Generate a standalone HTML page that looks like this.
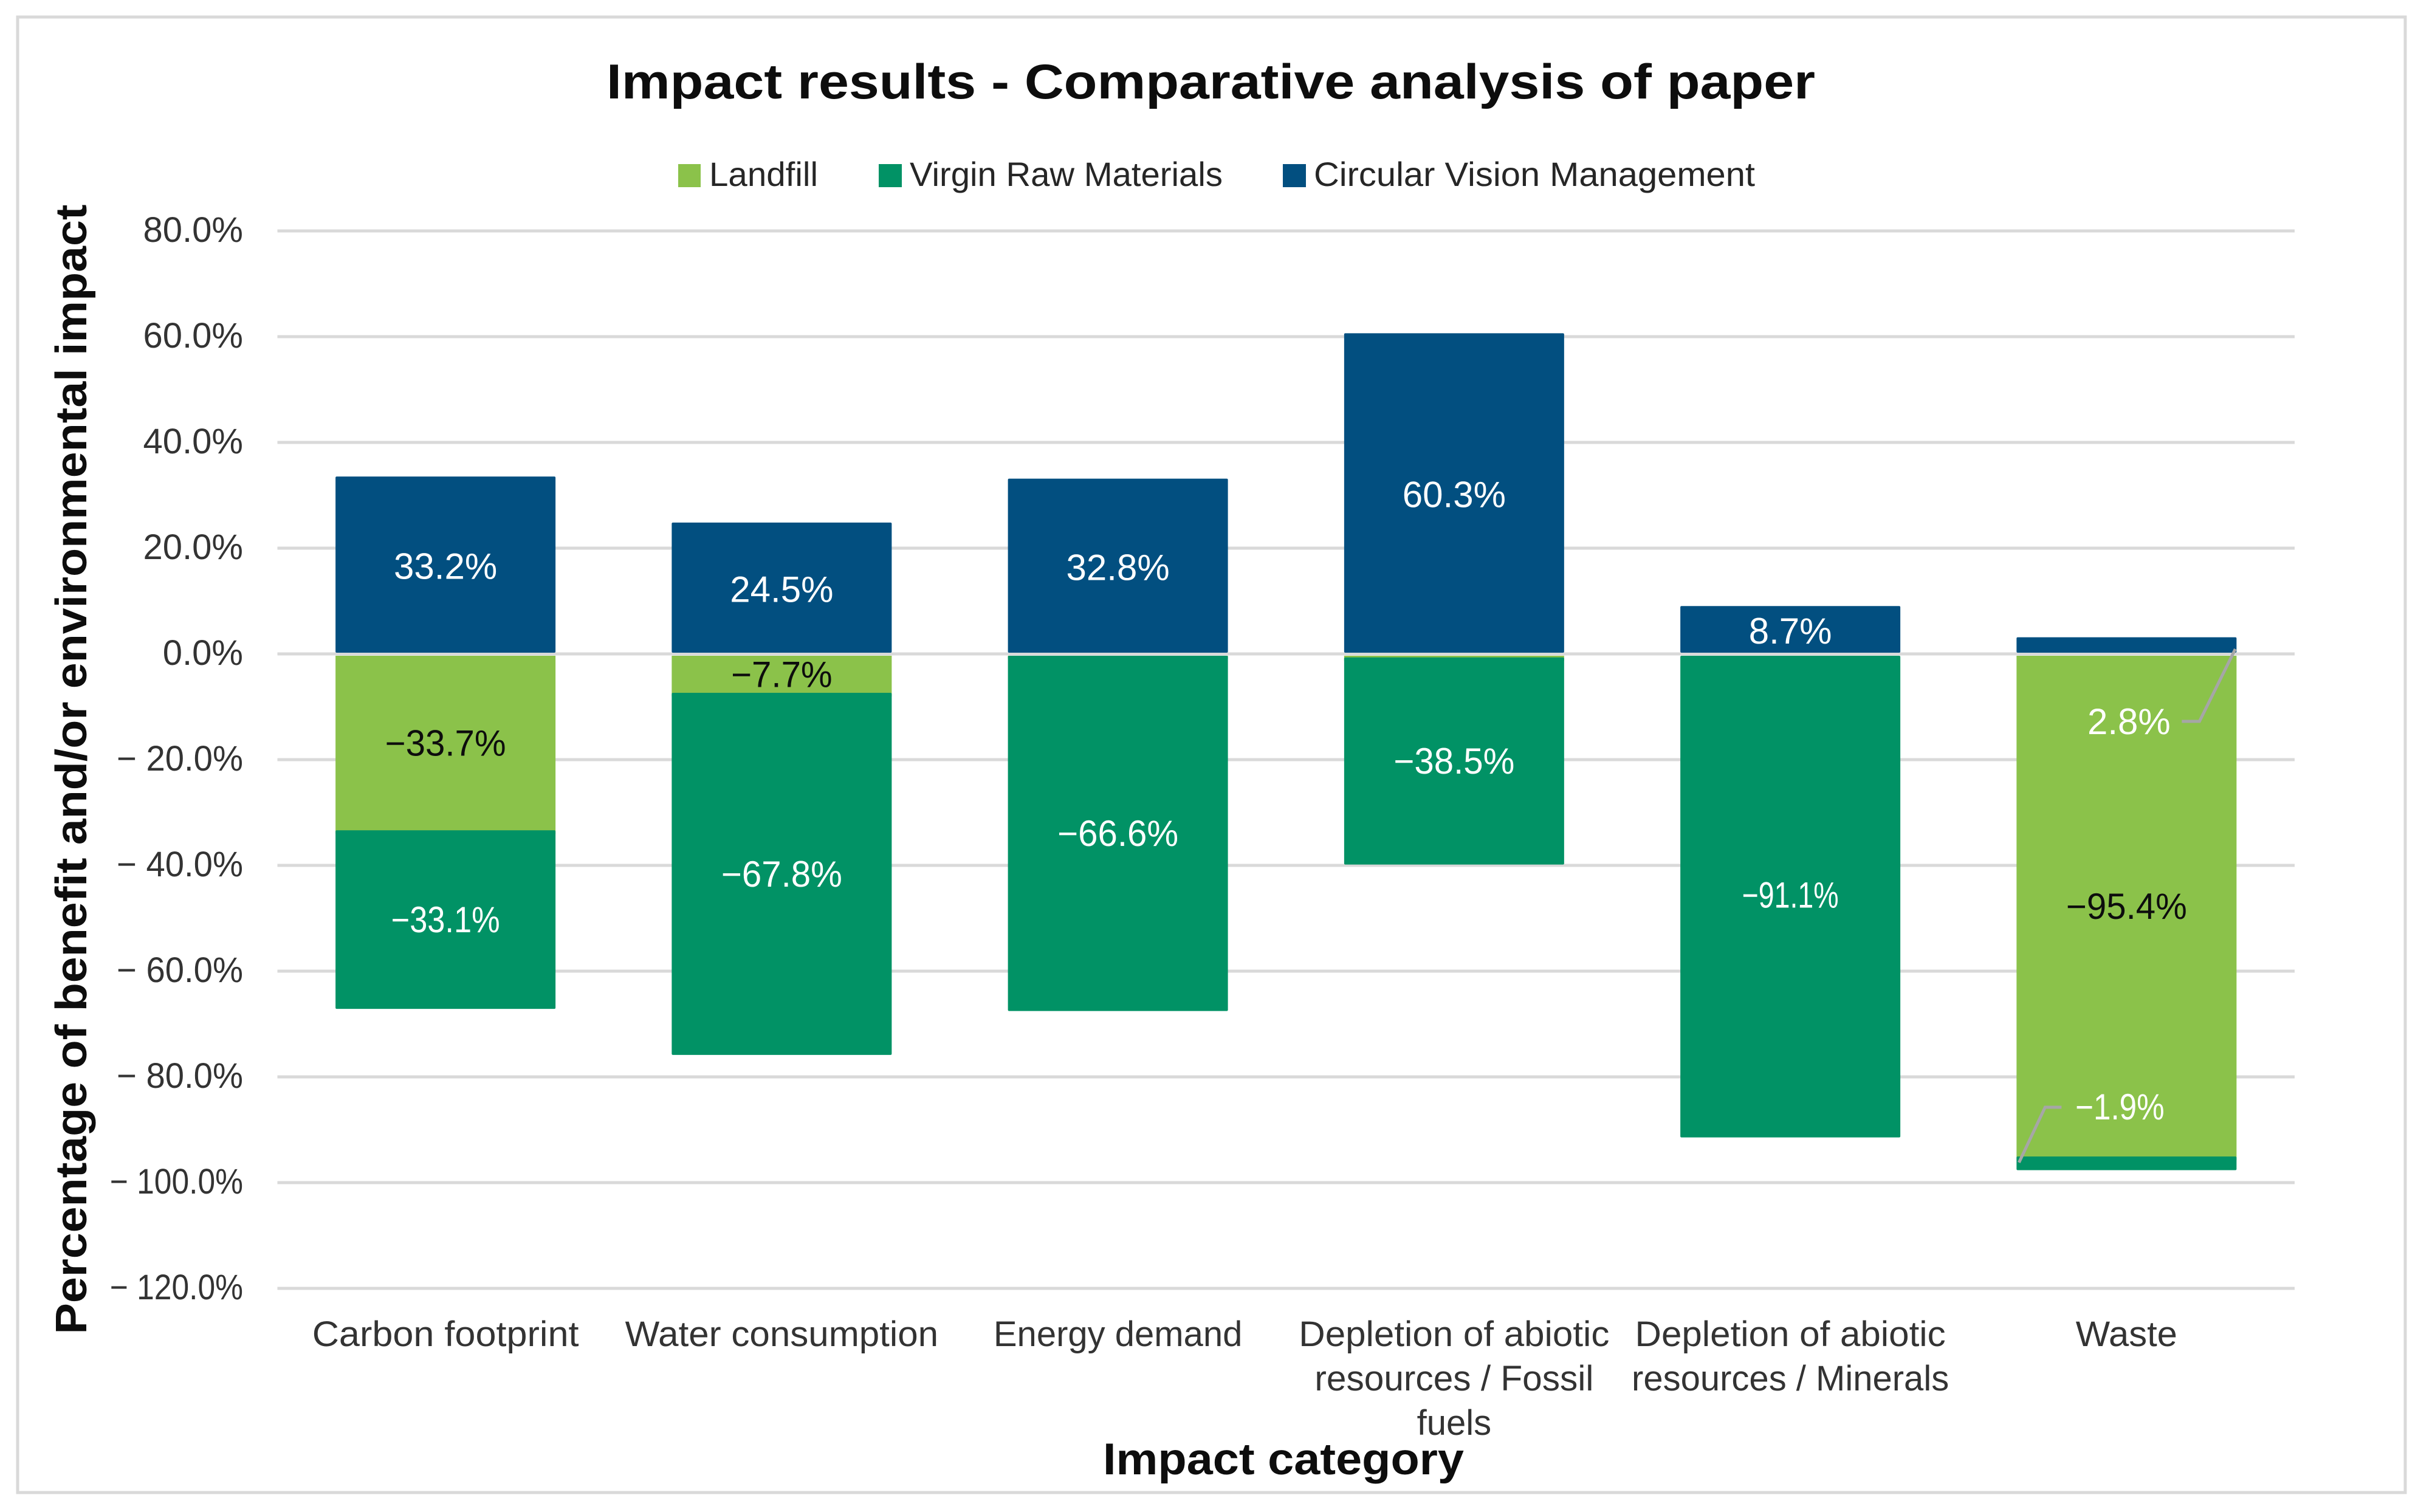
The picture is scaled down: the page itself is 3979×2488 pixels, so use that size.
<!DOCTYPE html>
<html lang="en">
<head>
<meta charset="utf-8">
<title>Impact results - Comparative analysis of paper</title>
<style>
html,body{margin:0;padding:0;background:#fff;}
svg{display:block;}
text{font-family:"Liberation Sans",sans-serif;}
</style>
</head>
<body>
<svg id="chart" xmlns="http://www.w3.org/2000/svg" width="3979" height="2488" viewBox="0 0 3979 2488">
  <rect x="0" y="0" width="3979" height="2488" fill="#ffffff"/>
  <rect x="29" y="28" width="3929" height="2428" fill="#ffffff" stroke="#d9d9d9" stroke-width="5"/>
  <text x="998" y="162" font-size="81" font-weight="700" fill="#0d0d0d" textLength="1989" lengthAdjust="spacingAndGlyphs">Impact results - Comparative analysis of paper</text>

  <g>
    <g>
      <rect x="1116" y="270" width="37" height="38" fill="#8bc24a"/>
      <text x="1167" y="306" font-size="56" fill="#262626" textLength="179" lengthAdjust="spacingAndGlyphs">Landfill</text>
    </g>
    <g>
      <rect x="1446" y="270" width="38" height="38" fill="#019265"/>
      <text x="1497" y="306" font-size="56" fill="#262626" textLength="515" lengthAdjust="spacingAndGlyphs">Virgin Raw Materials</text>
    </g>
    <g>
      <rect x="2111" y="270" width="38" height="38" fill="#024f80"/>
      <text x="2162" y="306" font-size="56" fill="#262626" textLength="726" lengthAdjust="spacingAndGlyphs">Circular Vision Management</text>
    </g>
  </g>

  <g id="grid"></g>
  <g id="yticks"></g>
  <g id="bars"></g>
  <g id="labels"></g>
  <g id="xticks"></g>

  <text transform="translate(142,1266) rotate(-90)" text-anchor="middle" font-size="72" font-weight="700" fill="#0d0d0d" textLength="1859" lengthAdjust="spacingAndGlyphs">Percentage of benefit and/or environmental impact</text>
  <text x="1815" y="2426" font-size="73" font-weight="700" fill="#0d0d0d" textLength="594" lengthAdjust="spacingAndGlyphs">Impact category</text>
</svg>

<script>
// ---- chart data ----
const categories = [
  ["Carbon footprint"],
  ["Water consumption"],
  ["Energy demand"],
  ["Depletion of abiotic", "resources / Fossil", "fuels"],
  ["Depletion of abiotic", "resources / Minerals"],
  ["Waste"]
];
const landfill = [-33.7, -7.7, -0.6, -1.0, 0, -95.4];
const virginRawMaterials = [-33.1, -67.8, -66.6, -38.5, -91.1, -1.9];
const circularVisionManagement = [33.2, 24.5, 32.8, 60.3, 8.7, 2.8];
const tickValues = [80, 60, 40, 20, 0, -20, -40, -60, -80, -100, -120];
const tickLabels = ["80.0%", "60.0%", "40.0%", "20.0%", "0.0%", "\u2212 20.0%", "\u2212 40.0%", "\u2212 60.0%", "\u2212 80.0%", "\u2212 100.0%", "\u2212 120.0%"];

// ---- axis functions ----
const NS = "http://www.w3.org/2000/svg";
const plotLeft = 456.5, plotRight = 3776, zeroY = 1076, pxPerPct = 8.7;
const bandWidth = (plotRight - plotLeft) / categories.length, barWidth = 362;
function y(v) { return zeroY - v * pxPerPct; }
function x(i) { return plotLeft + bandWidth * (i + 0.5); }
function fmt(v) { return (v < 0 ? "\u2212" : "") + Math.abs(v).toFixed(1) + "%"; }
function make(tag, parent, props) {
  const el = document.createElementNS(NS, tag);
  for (const k in props) el.setAttribute(k, props[k]);
  parent.appendChild(el);
  return el;
}
// the reference typeface has a narrow "1" and a slimmer minus
function fitNumber(t) {
  const s = t.textContent;
  const ones = s.split("1").length - 1;
  const natural = t.getComputedTextLength();
  const target = natural * (s.charAt(0) === "\u2212" ? 0.97 : 1) - 20 * ones;
  if (target !== natural) {
    t.setAttribute("textLength", target.toFixed(1));
    t.setAttribute("lengthAdjust", "spacingAndGlyphs");
  }
}
function fitCategory(t) {
  const fit = {"Carbon footprint": 1.055, "Water consumption": 1.036, "Depletion of abiotic": 1.036, "resources / Fossil": 1.01, "Waste": 1.03};
  const k = fit[t.textContent];
  if (k) {
    t.setAttribute("textLength", (t.getComputedTextLength() * k).toFixed(1));
    t.setAttribute("lengthAdjust", "spacingAndGlyphs");
  }
}

const gridG = document.getElementById("grid");
const yG = document.getElementById("yticks");
const barG = document.getElementById("bars");
const labG = document.getElementById("labels");
const xG = document.getElementById("xticks");

tickValues.forEach(function (v, i) {
  const line = make("line", gridG, {x1: plotLeft, x2: plotRight, y1: y(v), y2: y(v), stroke: "#d9d9d9", "stroke-width": 5});
  
  
  const t = make("text", yG, {x: 400, y: y(v) + 18, "text-anchor": "end", "font-size": 58, fill: "#333333"});
  
  
  t.textContent = tickLabels[i];
  fitNumber(t);
});

const pad = 3;
categories.forEach(function (lines, i) {
  const cx = x(i), left = cx - barWidth / 2;
  const c = circularVisionManagement[i], l = landfill[i], g = virginRawMaterials[i];

  // circular vision management (positive)
  const topC = y(c) - pad;
  const barC = make("rect", barG, {x: left, y: topC, width: barWidth, height: (zeroY - 2) - topC, rx: 2, fill: "#024f80"});
  
  

  // landfill (negative, first in the stack)
  if (l !== 0) {
    const topL = zeroY + pad, botL = y(l) + pad;
    const barL = make("rect", barG, {x: left, y: topL, width: barWidth, height: Math.max(botL - topL, 1), fill: "#8bc24a"});
    
    
  }

  // virgin raw materials (negative, stacked under landfill)
  const topG = Math.max(y(l) - pad, zeroY + pad), botG = y(l + g) + pad;
  const barG2 = make("rect", barG, {x: left, y: topG, width: barWidth, height: botG - topG, rx: 2, fill: "#019265"});
  
  

  // value labels centred in their segment, or called out with a leader when too thin
  if (Math.abs(c) >= 5) {
    const tc = make("text", labG, {x: cx, y: y(c / 2) + 21, "text-anchor": "middle", "font-size": 60, fill: "#ffffff"});
    
    
    tc.textContent = fmt(c);
    fitNumber(tc);
  } else {
    const elbowY = y(0) + 111;
    const lead = make("polyline", labG, {points: (cx + 91) + "," + elbowY + " " + (cx + 120) + "," + elbowY + " " + (left + barWidth - 2) + "," + (y(0) - 8), fill: "none", stroke: "#a6a6a6", "stroke-width": 5});
    
    
    const tc = make("text", labG, {x: cx + 4, y: elbowY + 21, "text-anchor": "middle", "font-size": 60, fill: "#ffffff"});
    
    
    tc.textContent = fmt(c);
    fitNumber(tc);
  }
  if (Math.abs(l) >= 5) {
    const tl = make("text", labG, {x: cx, y: y(l / 2) + 21, "text-anchor": "middle", "font-size": 60, fill: "#0d0d0d"});
    
    
    tl.textContent = fmt(l);
    fitNumber(tl);
  }
  if (Math.abs(g) >= 5) {
    const tg = make("text", labG, {x: cx, y: y(l + g / 2) + 21, "text-anchor": "middle", "font-size": 60, fill: "#ffffff"});
    
    
    tg.textContent = fmt(g);
    fitNumber(tg);
  } else {
    const elbowY2 = y(l) - 84;
    const lead2 = make("polyline", labG, {points: (cx - 107) + "," + elbowY2 + " " + (cx - 134) + "," + elbowY2 + " " + (left + 4) + "," + (y(l) + 7), fill: "none", stroke: "#a6a6a6", "stroke-width": 5});
    
    
    const tg = make("text", labG, {x: cx - 11, y: elbowY2 + 20, "text-anchor": "middle", "font-size": 60, fill: "#ffffff"});
    
    
    tg.textContent = fmt(g);
    fitNumber(tg);
  }

  // category labels
  lines.forEach(function (line, j) {
    const t = make("text", xG, {x: cx, y: 2215 + j * 73, "text-anchor": "middle", "font-size": 58, fill: "#333333"});
    
    
    t.textContent = line;
    fitCategory(t);
  });
});
</script>
</body>
</html>
